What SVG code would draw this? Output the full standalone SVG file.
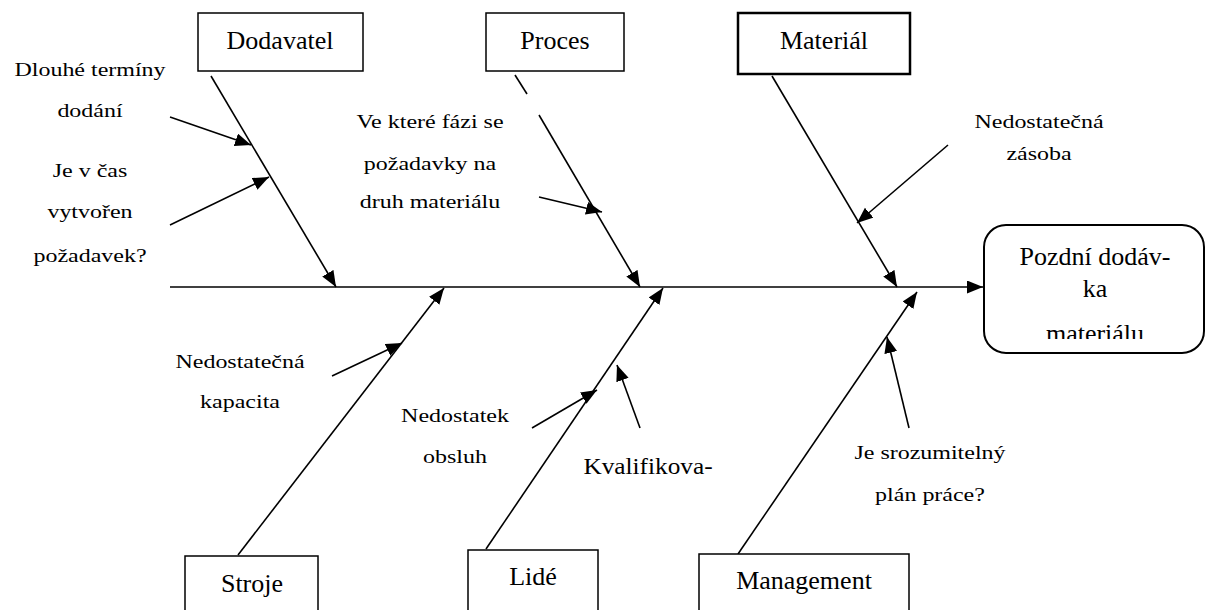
<svg xmlns="http://www.w3.org/2000/svg" width="1205" height="610" viewBox="0 0 1205 610">
<style>
.box{fill:#fff;stroke:#000;stroke-width:1.5}
.thick{stroke-width:2.5}
.bt{font-size:26px;fill:#000;text-anchor:middle}
.lb{font-size:19.5px;fill:#000;text-anchor:middle}
.ln{stroke:#000;stroke-width:1.6;fill:none}
</style>
<defs>
<marker id="ah" markerUnits="userSpaceOnUse" markerWidth="18" markerHeight="14" refX="16" refY="6.5" orient="auto">
<path d="M0,0 L16,6.5 L0,13 z" fill="#000"/>
</marker>
<clipPath id="clipEff"><rect x="984" y="225" width="221" height="114"/></clipPath>
</defs>
<rect width="1205" height="610" fill="#fff"/>

<g id="connectors">
<line class="ln" x1="170" y1="287" x2="983" y2="287" marker-end="url(#ah)"/>
<line class="ln" x1="211" y1="76" x2="336" y2="287" marker-end="url(#ah)"/>
<line class="ln" x1="170" y1="117" x2="251" y2="145" marker-end="url(#ah)"/>
<line class="ln" x1="170" y1="225" x2="269" y2="177" marker-end="url(#ah)"/>
<line class="ln" x1="515" y1="75" x2="527" y2="94"/>
<line class="ln" x1="539" y1="115" x2="640" y2="287" marker-end="url(#ah)"/>
<line class="ln" x1="539" y1="197" x2="602" y2="212" marker-end="url(#ah)"/>
<line class="ln" x1="772" y1="76" x2="897" y2="287" marker-end="url(#ah)"/>
<line class="ln" x1="948" y1="145" x2="857" y2="223" marker-end="url(#ah)"/>
<line class="ln" x1="238" y1="555" x2="444" y2="288" marker-end="url(#ah)"/>
<line class="ln" x1="332" y1="376" x2="402" y2="343" marker-end="url(#ah)"/>
<line class="ln" x1="486" y1="549" x2="663" y2="288" marker-end="url(#ah)"/>
<line class="ln" x1="532" y1="428" x2="597" y2="390" marker-end="url(#ah)"/>
<line class="ln" x1="640" y1="428" x2="617" y2="365" marker-end="url(#ah)"/>
<line class="ln" x1="738" y1="554" x2="917" y2="292" marker-end="url(#ah)"/>
<line class="ln" x1="909" y1="428" x2="887" y2="337" marker-end="url(#ah)"/>
</g>

<g font-family="'Liberation Serif', serif">
<g id="node-dodavatel"><rect class="box" x="198" y="13" width="165" height="58"/><text class="bt" x="280" y="49">Dodavatel</text></g>
<g id="node-proces"><rect class="box" x="486" y="13" width="138" height="58"/><text class="bt" x="555" y="49">Proces</text></g>
<g id="node-material"><rect class="box thick" x="738" y="13" width="172" height="61"/><text class="bt" x="824" y="49">Materiál</text></g>
<g id="node-stroje"><rect class="box" x="185" y="556" width="133" height="70"/><text class="bt" x="252" y="592">Stroje</text></g>
<g id="node-lide"><rect class="box" x="468" y="550" width="130" height="70"/><text class="bt" x="533" y="585">Lidé</text></g>
<g id="node-management"><rect class="box" x="699" y="554" width="210" height="70"/><text class="bt" x="804" y="589">Management</text></g>
<g id="node-effect"><rect class="box" x="984" y="225" width="220" height="128" rx="22" style="stroke-width:2"/>
<text class="bt" x="1095" y="265">Pozdní dodáv-</text>
<text class="bt" x="1095" y="297">ka</text>
<text class="bt" x="1095" y="342" clip-path="url(#clipEff)">materiálu</text></g>

<g id="label-dodavatel" transform="translate(90,0) scale(1.23,1)">
<text class="lb" x="0" y="76">Dlouhé termíny</text>
<text class="lb" x="0" y="117">dodání</text>
<text class="lb" x="0" y="177">Je v čas</text>
<text class="lb" x="0" y="218">vytvořen</text>
<text class="lb" x="0" y="262">požadavek?</text>
</g>
<g id="label-proces" transform="translate(430,0) scale(1.23,1)">
<text class="lb" x="0" y="128">Ve které fázi se</text>
<text class="lb" x="0" y="170">požadavky na</text>
<text class="lb" x="0" y="208">druh materiálu</text>
</g>
<g id="label-material" transform="translate(1039,0) scale(1.23,1)">
<text class="lb" x="0" y="128">Nedostatečná</text>
<text class="lb" x="0" y="160">zásoba</text>
</g>
<g id="label-stroje" transform="translate(240,0) scale(1.23,1)">
<text class="lb" x="0" y="368">Nedostatečná</text>
<text class="lb" x="0" y="408">kapacita</text>
</g>
<g id="label-lide" transform="translate(455,0) scale(1.23,1)">
<text class="lb" x="0" y="422">Nedostatek</text>
<text class="lb" x="0" y="463">obsluh</text>
</g>
<g id="label-lide2" transform="translate(648,0) scale(1.1,1)">
<text class="lb" x="0" y="474" style="font-size:23px">Kvalifikova-</text>
</g>
<g id="label-management" transform="translate(930,0) scale(1.23,1)">
<text class="lb" x="0" y="459">Je srozumitelný</text>
<text class="lb" x="0" y="501">plán práce?</text>
</g>
</g>
</svg>
